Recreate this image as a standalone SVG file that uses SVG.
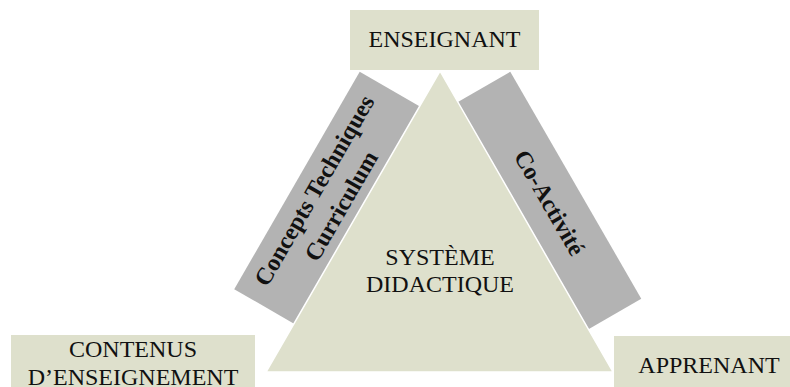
<svg xmlns="http://www.w3.org/2000/svg" width="790" height="387" viewBox="0 0 790 387">
  <style>
    .box { fill: #dee0cc; }
    .band { fill: #b3b3b3; }
    .tri { fill: #dee0cc; stroke: #ffffff; stroke-width: 1.5; stroke-linejoin: miter; }
    .lbl { font-family: "Liberation Serif", "Times New Roman", serif; font-size: 24px; fill: #111111; text-anchor: middle; }
    .bold { font-weight: bold; }
  </style>
  <rect width="790" height="387" fill="#ffffff"/>
  <g id="relations">
    <g id="rel-concepts" transform="translate(329,199) rotate(-60)">
      <rect class="band" x="-125.5" y="-37" width="251" height="74"/>
      <text class="lbl bold" x="0" y="-9">Concepts Techniques</text>
      <text class="lbl bold" x="0" y="22">Curriculum</text>
    </g>
    <g id="rel-coactivite" transform="translate(548.5,201) rotate(60)">
      <rect class="band" x="-131" y="-31.5" width="262" height="63"/>
      <text class="lbl bold" x="2" y="8">Co-Activité</text>
    </g>
  </g>
  <g id="systeme">
    <polygon class="tri" points="440,71 613,372 266,372"/>
    <text class="lbl" x="440" y="265">SYSTÈME</text>
    <text class="lbl" x="440" y="292">DIDACTIQUE</text>
  </g>
  <g id="enseignant">
    <rect class="box" x="350" y="10" width="189" height="60"/>
    <text class="lbl" x="444.5" y="47">ENSEIGNANT</text>
  </g>
  <g id="contenus">
    <rect class="box" x="11" y="335" width="244" height="60"/>
    <text class="lbl" x="133" y="357">CONTENUS</text>
    <text class="lbl" x="133" y="385">D’ENSEIGNEMENT</text>
  </g>
  <g id="apprenant">
    <rect class="box" x="614" y="336" width="190" height="60"/>
    <text class="lbl" x="709" y="373">APPRENANT</text>
  </g>
</svg>
